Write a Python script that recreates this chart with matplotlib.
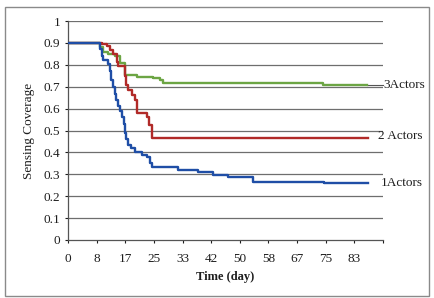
import matplotlib
matplotlib.use("Agg")
import matplotlib.pyplot as plt
from matplotlib.patches import Rectangle

plt.rcParams["font.family"] = ["Liberation Serif", "DejaVu Serif"]

# ---- data (step curves) -----------------------------------------------------
t1 = [0, 9.3, 9.8, 10.2, 11.6, 12.2, 12.6, 13.1, 13.7, 14.1, 14.5, 15.0, 15.7,
      16.2, 16.6, 17.0, 17.5, 18.2, 19.5, 21.5, 22.9, 23.9, 24.4, 32.1, 37.9,
      42.3, 46.6, 53.9, 74.5, 87.2]
v1 = [0.9, 0.87, 0.84, 0.82, 0.805, 0.77, 0.73, 0.70, 0.665, 0.64, 0.61, 0.59,
      0.56, 0.53, 0.49, 0.46, 0.435, 0.42, 0.40, 0.39, 0.38, 0.35, 0.335, 0.32,
      0.309, 0.297, 0.289, 0.266, 0.259, 0.259]

t2 = [0, 9.8, 11.3, 12.2, 13.2, 14.2, 14.6, 16.6, 16.9, 17.5, 18.5, 19.5, 20.0,
      22.9, 23.6, 24.4, 87.2]
v2 = [0.9, 0.895, 0.885, 0.868, 0.85, 0.814, 0.795, 0.75, 0.708, 0.685, 0.662,
      0.64, 0.58, 0.563, 0.525, 0.464, 0.464]

t3 = [0, 9.3, 10.3, 11.7, 13.7, 15.1, 16.6, 20.0, 24.8, 26.8, 27.7, 74.3, 87.0]
v3 = [0.9, 0.883, 0.86, 0.85, 0.84, 0.807, 0.753, 0.746, 0.738, 0.73, 0.715,
      0.708, 0.708]

xticks = [i * 100 / 12 for i in range(12)]
xlabels = ["0", "8", "17", "25", "33", "42", "50", "58", "67", "75", "83", ""]
yticks = [0, 0.1, 0.2, 0.3, 0.4, 0.5, 0.6, 0.7, 0.8, 0.9, 1]
ylabels = ["0", "0.1", "0.2", "0.3", "0.4", "0.5", "0.6", "0.7", "0.8", "0.9", "1"]

BLUE = "#1f4ea6"
RED = "#b12a28"
GREEN = "#6ca544"
INK = "#1e1e1e"

fig = plt.figure(figsize=(4.34, 2.98), dpi=100)
ax = fig.add_axes([68 / 434, 58 / 298, 315 / 434, 219 / 298])

# outer chart border
fig.patches.append(Rectangle((5 / 434, 2 / 298), 424 / 434, 289 / 298,
                             transform=fig.transFigure, fill=False,
                             edgecolor="#8a8a8a", lw=1.0))

for y in yticks[1:]:
    ax.axhline(y, color="#6e6e6e", lw=0.9, zorder=1)

ax.plot(t3, v3, drawstyle="steps-post", color=GREEN, lw=1.7, zorder=3)
ax.plot(t2, v2, drawstyle="steps-post", color=RED, lw=1.7, zorder=3)
ax.plot(t1, v1, drawstyle="steps-post", color=BLUE, lw=1.7, zorder=4)

ax.set_xlim(0, xticks[-1])
ax.set_ylim(0, 1)
ax.set_xticks(xticks)
ax.set_xticklabels(xlabels)
ax.set_yticks(yticks)
ax.set_yticklabels(ylabels)
ax.tick_params(axis="both", labelsize=9.5, length=2.5, width=0.8, colors=INK,
               pad=3)
ax.tick_params(axis="x", pad=7)

for s in ("top", "right"):
    ax.spines[s].set_visible(False)
for s in ("left", "bottom"):
    ax.spines[s].set_color("#555555")
    ax.spines[s].set_linewidth(0.9)

ax.set_xlabel("Time (day)", fontsize=9, fontweight="bold", color=INK,
              labelpad=4)
ax.set_ylabel("Sensing Coverage", fontsize=9.5, color=INK, labelpad=6)

# series labels
ax.plot([87.0, 91.7], [v3[-1], v3[-1]], color="#555555", lw=0.8,
        clip_on=False, zorder=2)
ax.text(91.8, v3[-1], "3Actors", fontsize=9.5, va="center", ha="left",
        color=INK)
ax.text(90.3, 0.475, "2 Actors", fontsize=9.5, va="center", ha="left",
        color=INK)
ax.text(91.0, 0.26, "1Actors", fontsize=9.5, va="center", ha="left",
        color=INK)

fig.savefig("out.png", dpi=100, facecolor="white")
